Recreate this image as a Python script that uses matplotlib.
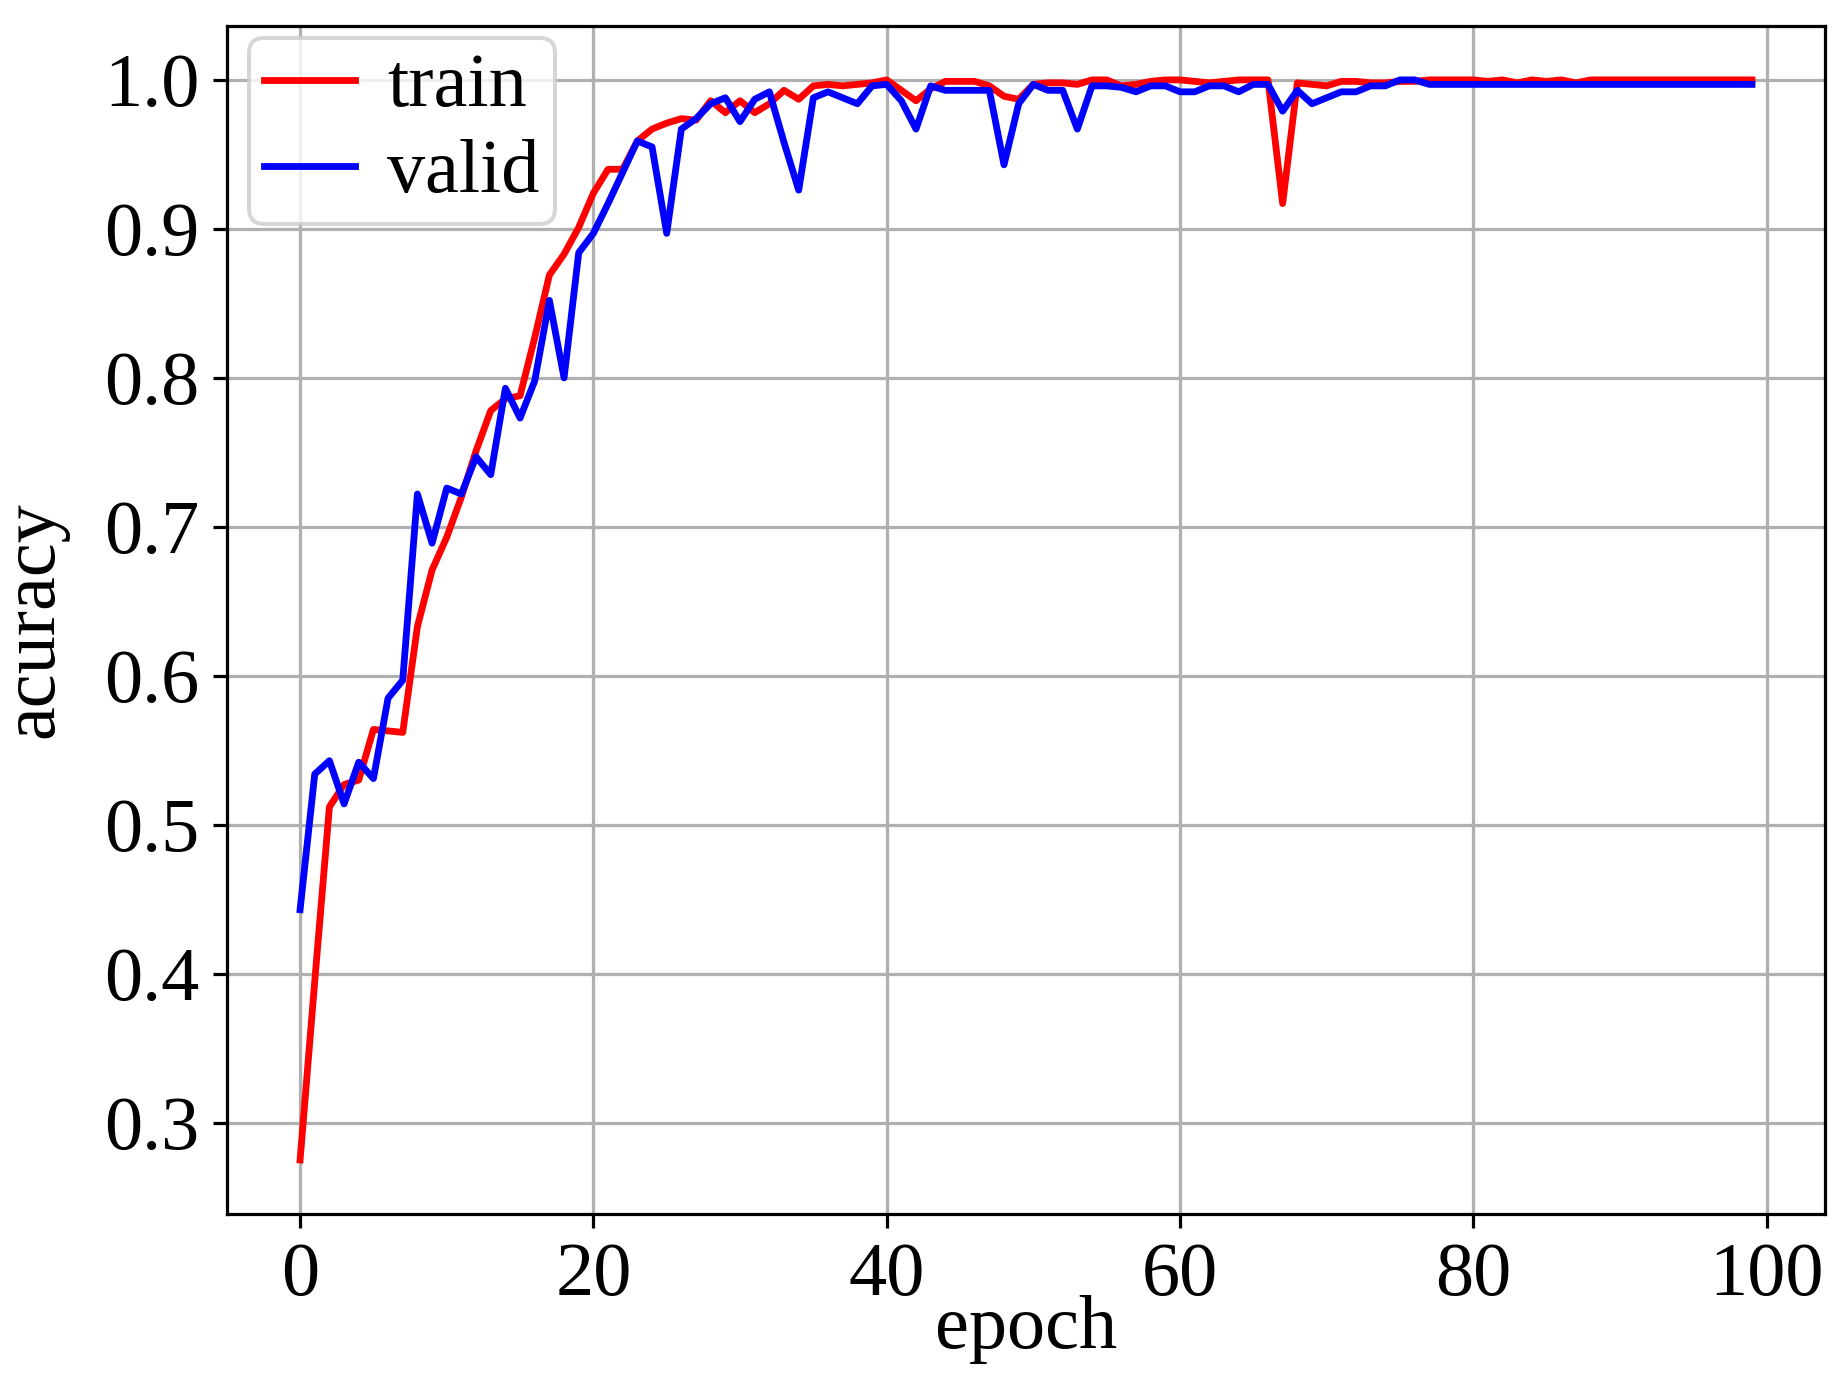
import matplotlib
matplotlib.use("Agg")
import matplotlib.pyplot as plt
from matplotlib.ticker import MultipleLocator
import numpy as np

plt.rcParams['font.family'] = ['Liberation Serif', 'DejaVu Serif']
plt.rcParams['font.size'] = 19

## donnees (une valeur par epoch, 0..99)
epochs = np.arange(100)

train_acc = [
    0.275, 0.395, 0.512, 0.527, 0.530, 0.564, 0.563, 0.562, 0.633, 0.671,
    0.693, 0.720, 0.751, 0.778, 0.786, 0.788, 0.827, 0.869, 0.883, 0.901,
    0.924, 0.940, 0.940, 0.959, 0.967, 0.971, 0.974, 0.973, 0.986, 0.978,
    0.986, 0.978, 0.984, 0.993, 0.987, 0.996, 0.997, 0.996, 0.997, 0.998,
    1.000, 0.993, 0.986, 0.994, 0.999, 0.999, 0.999, 0.996, 0.989, 0.987,
    0.997, 0.998, 0.998, 0.997, 1.000, 1.000, 0.996, 0.997, 0.999, 1.000,
    1.000, 0.999, 0.998, 0.999, 1.000, 1.000, 1.000, 0.917, 0.998, 0.997,
    0.996, 0.999, 0.999, 0.998, 0.998, 0.999, 0.999, 1.000, 1.000, 1.000,
    1.000, 0.999, 1.000, 0.998, 1.000, 0.999, 1.000, 0.998, 1.000, 1.000,
    1.000, 1.000, 1.000, 1.000, 1.000, 1.000, 1.000, 1.000, 1.000, 1.000,
]

valid_acc = [
    0.443, 0.534, 0.543, 0.514, 0.542, 0.531, 0.585, 0.597, 0.722, 0.689,
    0.726, 0.722, 0.747, 0.735, 0.793, 0.773, 0.798, 0.852, 0.800, 0.884,
    0.897, 0.917, 0.938, 0.959, 0.955, 0.897, 0.967, 0.974, 0.984, 0.988,
    0.972, 0.987, 0.992, 0.958, 0.926, 0.988, 0.992, 0.988, 0.984, 0.996,
    0.997, 0.986, 0.967, 0.996, 0.993, 0.993, 0.993, 0.993, 0.943, 0.984,
    0.997, 0.993, 0.993, 0.967, 0.996, 0.996, 0.995, 0.992, 0.996, 0.996,
    0.992, 0.992, 0.996, 0.996, 0.992, 0.997, 0.997, 0.979, 0.993, 0.984,
    0.988, 0.992, 0.992, 0.996, 0.996, 1.000, 1.000, 0.997, 0.997, 0.997,
    0.997, 0.997, 0.997, 0.997, 0.997, 0.997, 0.997, 0.997, 0.997, 0.997,
    0.997, 0.997, 0.997, 0.997, 0.997, 0.997, 0.997, 0.997, 0.997, 0.997,
]

## figure
fig = plt.figure(figsize=(1848 / 288.75, 1385 / 288.75), dpi=288.75)
ax = fig.add_axes([0.1231, 0.1235, 0.8642, 0.8578])

ax.plot(epochs, train_acc, color='red', lw=1.7, label='train')
ax.plot(epochs, valid_acc, color='blue', lw=1.7, label='valid')

ax.yaxis.set_major_locator(MultipleLocator(0.1))
ax.set_xlabel('epoch', labelpad=-4)
ax.set_ylabel('acuracy', labelpad=9)
ax.grid(True)
ax.legend(loc='upper left', bbox_to_anchor=(0.0133, 0.990), borderaxespad=0,
          borderpad=0.2, handlelength=1.2, handletextpad=0.42,
          labelspacing=0.22)

fig.savefig('out.png', dpi=288.75)
